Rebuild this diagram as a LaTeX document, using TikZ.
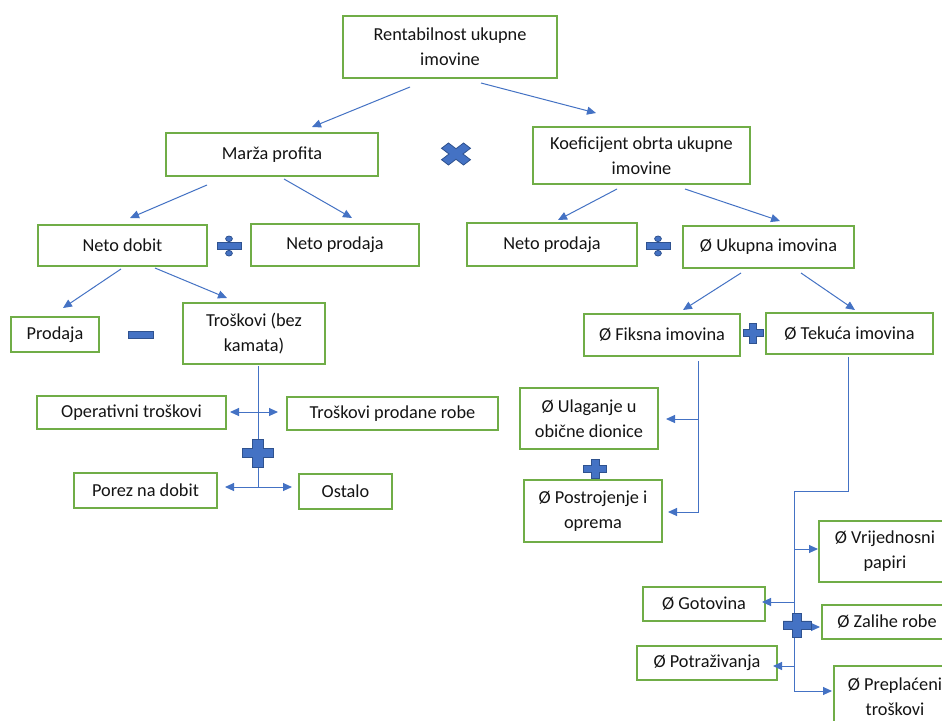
\documentclass[tikz,border=0pt]{standalone}
\usepackage{fontspec}
\setmainfont{Carlito}
\usetikzlibrary{arrows.meta}
\definecolor{boxgreen}{RGB}{112,173,71}
\definecolor{arrblue}{RGB}{68,114,196}
\definecolor{opfill}{RGB}{68,114,196}
\definecolor{opedge}{RGB}{47,82,143}
\definecolor{txt}{RGB}{20,20,20}
\begin{document}
\begin{tikzpicture}[x=1pt,y=-1pt,
  box/.style={draw=boxgreen, line width=2pt, fill=white, inner sep=0pt, align=center, text=txt, font=\fontsize{18.3}{25}\selectfont},
  arr/.style={draw=arrblue, line width=1pt, -{Triangle[length=9pt,width=8pt]}},
  dblarr/.style={draw=arrblue, line width=1pt, {Triangle[length=9pt,width=8pt]}-{Triangle[length=9pt,width=8pt]}},
  conn/.style={draw=arrblue, line width=1pt},
  opshape/.style={fill=opfill, draw=opedge, line width=0.8pt, line join=miter},
  plusop/.pic={\path[opshape] (-0.5,-0.17) -- (-0.17,-0.17) -- (-0.17,-0.5) -- (0.17,-0.5) -- (0.17,-0.17) -- (0.5,-0.17) -- (0.5,0.17) -- (0.17,0.17) -- (0.17,0.5) -- (-0.17,0.5) -- (-0.17,0.17) -- (-0.5,0.17) -- cycle;},
  minusop/.pic={\path[opshape] (-0.5,-0.5) rectangle (0.5,0.5);},
  divop/.pic={\path[opshape] (-0.5,-0.17) rectangle (0.5,0.17);
              \path[opshape] (0,-0.36) circle[radius=0.14];
              \path[opshape] (0,0.36) circle[radius=0.14];},
  mulop/.pic={\path[opshape] (0,0.24) -- (0.26,0.5) -- (0.5,0.26) -- (0.24,0) -- (0.5,-0.26) -- (0.26,-0.5) -- (0,-0.24) -- (-0.26,-0.5) -- (-0.5,-0.26) -- (-0.24,0) -- (-0.5,0.26) -- (-0.26,0.5) -- cycle;},
]
\fill[white] (0,0) rectangle (942,720);
\clip (0,0) rectangle (942,720);

% boxes
\node[box, minimum width=214, minimum height=62] (rent) at (450,47) {Rentabilnost ukupne\\imovine};
\node[box, minimum width=212, minimum height=43] (marza) at (272,154.5) {Marža profita};
\node[box, minimum width=217, minimum height=57] (koef) at (641.5,155.5) {Koeficijent obrta ukupne\\imovine};
\node[box, minimum width=169, minimum height=41] (netodobit) at (122.5,245.5) {Neto dobit};
\node[box, minimum width=168, minimum height=42] (netoprodL) at (335,245) {Neto prodaja};
\node[box, minimum width=170, minimum height=43] (netoprodR) at (552,244.5) {Neto prodaja};
\node[box, minimum width=171, minimum height=42] (ukupna) at (768.5,247) {Ø Ukupna imovina};
\node[box, minimum width=88, minimum height=35] (prodaja) at (55,334.5) {Prodaja};
\node[box, minimum width=142, minimum height=61] (troskovi) at (254,333.5) {Troškovi (bez\\kamata)};
\node[box, minimum width=189, minimum height=33] (operativni) at (131.5,412.5) {Operativni troškovi};
\node[box, minimum width=211, minimum height=33] (tpr) at (392.5,413.5) {Troškovi prodane robe};
\node[box, minimum width=143, minimum height=35] (porez) at (145.5,490.5) {Porez na dobit};
\node[box, minimum width=93, minimum height=35] (ostalo) at (345.5,491.5) {Ostalo};
\node[box, minimum width=156, minimum height=42] (fiksna) at (662,335) {Ø Fiksna imovina};
\node[box, minimum width=167, minimum height=41] (tekuca) at (849.5,333.5) {Ø Tekuća imovina};
\node[box, minimum width=138, minimum height=61] (ulaganje) at (589,418.5) {Ø Ulaganje u\\obične dionice};
\node[box, minimum width=138, minimum height=62] (postrojenje) at (593,511) {Ø Postrojenje i\\oprema};
\node[box, minimum width=132, minimum height=61] (vrijed) at (885,551.5) {Ø Vrijednosni\\papiri};
\node[box, minimum width=122, minimum height=34] (gotovina) at (704,604) {Ø Gotovina};
\node[box, minimum width=130, minimum height=34] (zalihe) at (887,622) {Ø Zalihe robe};
\node[box, minimum width=140, minimum height=34] (potraz) at (707,663) {Ø Potraživanja};
\node[box, minimum width=122, minimum height=62] (prepl) at (895,697) {Ø Preplaćeni\\troškovi};

% connector end points
\coordinate (a1s) at (410,87);  \coordinate (a1e) at (312,127);
\coordinate (a2s) at (481,83);  \coordinate (a2e) at (596,113);
\coordinate (a3s) at (207,185); \coordinate (a3e) at (130,218);
\coordinate (a4s) at (284,179); \coordinate (a4e) at (352,218);
\coordinate (a5s) at (617,189); \coordinate (a5e) at (558,220);
\coordinate (a6s) at (685,189); \coordinate (a6e) at (780,221);
\coordinate (a7s) at (121,269); \coordinate (a7e) at (63,308);
\coordinate (a8s) at (155,268); \coordinate (a8e) at (227,298);
\coordinate (a9s) at (741,273); \coordinate (a9e) at (683,310);
\coordinate (a10s) at (801,273); \coordinate (a10e) at (855,310);

\draw[arr] (a1s) -- (a1e);
\draw[arr] (a2s) -- (a2e);
\draw[arr] (a3s) -- (a3e);
\draw[arr] (a4s) -- (a4e);
\draw[arr] (a5s) -- (a5e);
\draw[arr] (a6s) -- (a6e);
\draw[arr] (a7s) -- (a7e);
\draw[arr] (a8s) -- (a8e);
\draw[arr] (a9s) -- (a9e);
\draw[arr] (a10s) -- (a10e);

% troskovi tree
\coordinate (k0) at (258,366); \coordinate (k1) at (258,487);
\coordinate (k2) at (230,412); \coordinate (k3) at (278,412);
\coordinate (k4) at (225,487); \coordinate (k5) at (292,487);
\draw[conn] (k0) -- (k1);
\draw[dblarr] (k2) -- (k3);
\draw[dblarr] (k4) -- (k5);

% fiksna tree
\coordinate (f0) at (698,361); \coordinate (f1) at (668,512);
\coordinate (f2) at (698,419); \coordinate (f3) at (666,419);
\draw[arr] (f0) |- (f1);
\draw[arr] (f2) -- (f3);

% tekuca tree
\coordinate (t0) at (848,357); \coordinate (t1) at (794,491);
\coordinate (t2) at (794,691); \coordinate (t3) at (832,691);
\draw[arr] (t0) |- (t1) -- (t2) -- (t3);
\coordinate (b1s) at (794,549); \coordinate (b1e) at (818,549);
\coordinate (b2s) at (794,602); \coordinate (b2e) at (762,602);
\coordinate (b3s) at (794,627); \coordinate (b3e) at (820,627);
\coordinate (b4s) at (794,666); \coordinate (b4e) at (773,666);
\draw[arr] (b1s) -- (b1e);
\draw[arr] (b2s) -- (b2e);
\draw[arr] (b3s) -- (b3e);
\draw[arr] (b4s) -- (b4e);

% operators
\pic[xscale=29,yscale=22] (mul) at (456,154) {mulop};
\pic[xscale=24,yscale=20] (divL) at (229,246) {divop};
\pic[xscale=24,yscale=20] (divR) at (658,246) {divop};
\pic[xscale=25,yscale=7] (minus) at (141,334.5) {minusop};
\pic[xscale=31,yscale=28] (plusA) at (258,453) {plusop};
\pic[xscale=20,yscale=20] (plusB) at (753,333) {plusop};
\pic[xscale=23,yscale=19] (plusC) at (595,469) {plusop};
\pic[xscale=28,yscale=24] (plusD) at (797,625) {plusop};
\end{tikzpicture}
\end{document}
